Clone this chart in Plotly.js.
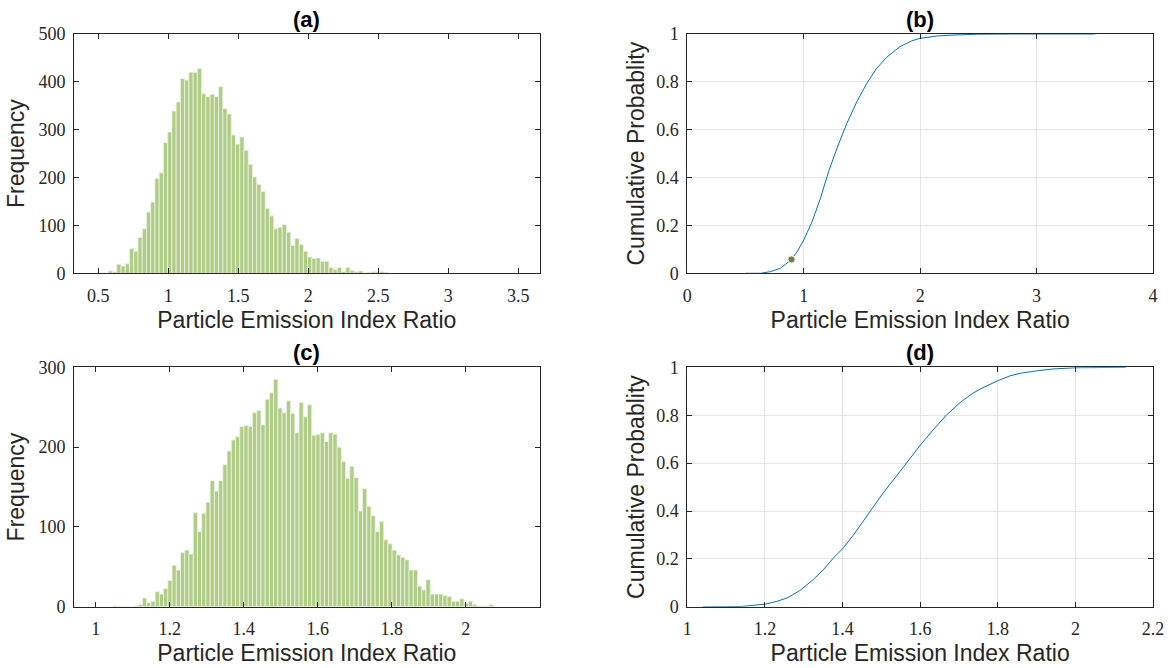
<!DOCTYPE html>
<html>
<head>
<meta charset="utf-8">
<script src="https://cdn.plot.ly/plotly-3.0.1.min.js"></script>
<style>html,body{margin:0;padding:0;background:#fff;}#chart{width:1172px;height:668px;}</style>
</head>
<body>
<div id="chart"></div>
<script>
// ---- Data ----
const histA_binStart = 0.571;
const histA_binWidth = 0.0303;
const histA_counts = [5, 3, 19, 15, 20, 52, 46, 75, 93, 128, 149, 198, 210, 273, 295, 339, 358, 407, 404, 420, 420, 428, 375, 369, 374, 369, 390, 344, 333, 289, 270, 285, 257, 228, 201, 186, 171, 136, 120, 93, 96, 102, 86, 58, 73, 60, 46, 34, 31, 32, 25, 25, 12, 8, 12, 4, 12, 6, 3, 5, 0, 2, 3, 3, 4, 2];

const histC_binStart = 1.046;
const histC_binWidth = 0.01144;
const histC_counts = [1, 0, 0, 0, 0, 1, 3, 11, 5, 7, 19, 16, 23, 33, 52, 46, 68, 71, 66, 118, 94, 117, 131, 158, 145, 158, 178, 195, 209, 213, 226, 227, 226, 243, 246, 228, 260, 268, 285, 249, 243, 258, 242, 218, 256, 238, 253, 215, 216, 218, 207, 218, 216, 200, 182, 161, 176, 162, 120, 148, 126, 114, 94, 107, 84, 79, 71, 65, 62, 59, 46, 46, 26, 21, 34, 16, 16, 16, 14, 13, 7, 7, 10, 4, 7, 3, 1, 1, 1, 3];

const cdfB_x = [0.50, 0.63, 0.715, 0.80, 0.895, 0.943, 1.0, 1.072, 1.143, 1.214, 1.285, 1.371, 1.456, 1.542, 1.627, 1.713, 1.826, 1.926, 2.0, 2.15, 2.3, 2.5, 2.8, 3.1, 3.5];
const cdfB_y = [0, 0, 0.007, 0.021, 0.058, 0.090, 0.139, 0.216, 0.313, 0.425, 0.522, 0.627, 0.717, 0.794, 0.857, 0.903, 0.947, 0.971, 0.982, 0.992, 0.996, 0.999, 1.0, 1.0, 1.0];
const markB_x = [0.895];
const markB_y = [0.058];

const cdfD_x = [1.04, 1.136, 1.2, 1.23, 1.26, 1.29, 1.324, 1.35, 1.376, 1.4, 1.427, 1.453, 1.479, 1.504, 1.539, 1.573, 1.599, 1.633, 1.668, 1.706, 1.736, 1.762, 1.8, 1.831, 1.861, 1.9, 1.942, 2.0, 2.062, 2.13];
const cdfD_y = [0, 0.001, 0.011, 0.022, 0.039, 0.068, 0.113, 0.154, 0.203, 0.242, 0.297, 0.356, 0.418, 0.474, 0.546, 0.620, 0.672, 0.738, 0.801, 0.857, 0.892, 0.915, 0.944, 0.964, 0.976, 0.985, 0.993, 0.998, 1.0, 1.0];

const panelTitles = ['(a)', '(b)', '(c)', '(d)'];
const xTitle = 'Particle Emission Index Ratio';
const yTitleHist = 'Frequency';
const yTitleCdf = 'Cumulative Probablity';

const ticksA_x = [0.5, 1, 1.5, 2, 2.5, 3, 3.5];
const ticksA_y = [0, 100, 200, 300, 400, 500];
const ticksB_x = [0, 1, 2, 3, 4];
const ticksProb = [0, 0.2, 0.4, 0.6, 0.8, 1];
const ticksC_x = [1, 1.2, 1.4, 1.6, 1.8, 2];
const ticksC_y = [0, 100, 200, 300];
const ticksD_x = [1, 1.2, 1.4, 1.6, 1.8, 2, 2.2];

// ---- Build ----
const centers = (start, w, n) => Array.from({length: n}, (_, i) => start + w * (i + 0.5));

const barStyle = {color: '#afcd86', line: {color: '#eef4e4', width: 0.8}};
const lineStyle = {color: '#0072BD', width: 1};

const traces = [
  {type: 'bar', x: centers(histA_binStart, histA_binWidth, histA_counts.length), y: histA_counts,
   width: histA_binWidth, marker: barStyle, xaxis: 'x', yaxis: 'y', hoverinfo: 'x+y'},
  {type: 'scatter', mode: 'lines', x: cdfB_x, y: cdfB_y, line: lineStyle, xaxis: 'x2', yaxis: 'y2'},
  {type: 'scatter', mode: 'markers', x: markB_x, y: markB_y, xaxis: 'x2', yaxis: 'y2',
   marker: {size: 7, color: '#6f7a5e', line: {color: '#e9efb8', width: 1}}},
  {type: 'bar', x: centers(histC_binStart, histC_binWidth, histC_counts.length), y: histC_counts,
   width: histC_binWidth, marker: barStyle, xaxis: 'x3', yaxis: 'y3', hoverinfo: 'x+y'},
  {type: 'scatter', mode: 'lines', x: cdfD_x, y: cdfD_y, line: lineStyle, xaxis: 'x4', yaxis: 'y4'}
];

const W = 1172, H = 668;
const colL = [74 / W, 539.7 / W];
const colR = [687.3 / W, 1153 / W];
const rowT = [1 - 273.3 / H, 1 - 34 / H];
const rowB = [1 - 606.8 / H, 1 - 367.3 / H];

const tickFont = {family: 'Liberation Serif, Times New Roman, serif', size: 18, color: '#262626'};
const titleFont = {family: 'Liberation Sans, Arial, sans-serif', size: 23, color: '#262626'};

function axis(domain, range, tickvals, grid, title, standoff, isX) {
  return {
    domain: domain, range: range, tickvals: tickvals, ticktext: tickvals.map(v => String(v)),
    showline: true, linecolor: '#262626', linewidth: 1, mirror: 'ticks',
    ticks: 'inside', ticklen: 5, tickwidth: 1, tickcolor: '#262626',
    showgrid: grid, gridcolor: '#e4e4e4', gridwidth: 1, zeroline: false,
    tickfont: tickFont, ticklabelstandoff: isX ? 6 : 4,
    title: {text: title, font: titleFont, standoff: standoff},
    automargin: false, fixedrange: true
  };
}

const layout = {
  width: W, height: H,
  margin: {l: 0, r: 0, t: 0, b: 0},
  paper_bgcolor: '#ffffff', plot_bgcolor: '#ffffff',
  showlegend: false,
  xaxis:  axis(colL, [0.326, 3.653], ticksA_x, false, xTitle, 6, true),
  yaxis:  Object.assign(axis(rowT, [0, 500], ticksA_y, false, yTitleHist, 7, false), {anchor: 'x'}),
  xaxis2: Object.assign(axis(colR, [0, 4], ticksB_x, true, xTitle, 6, true), {anchor: 'y2'}),
  yaxis2: Object.assign(axis(rowT, [0, 1], ticksProb, true, yTitleCdf, 5, false), {anchor: 'x2'}),
  xaxis3: Object.assign(axis(colL, [0.941, 2.2], ticksC_x, false, xTitle, 6, true), {anchor: 'y3'}),
  yaxis3: Object.assign(axis(rowB, [0, 300], ticksC_y, false, yTitleHist, 7, false), {anchor: 'x3'}),
  xaxis4: Object.assign(axis(colR, [1, 2.2], ticksD_x, true, xTitle, 6, true), {anchor: 'y4'}),
  yaxis4: Object.assign(axis(rowB, [0, 1], ticksProb, true, yTitleCdf, 5, false), {anchor: 'x4'}),
  annotations: [
    [colL, rowT, panelTitles[0]], [colR, rowT, panelTitles[1]],
    [colL, rowB, panelTitles[2]], [colR, rowB, panelTitles[3]]
  ].map(([c, r, t]) => ({
    text: '<b>' + t + '</b>', xref: 'paper', yref: 'paper',
    x: (c[0] + c[1]) / 2, y: r[1], xanchor: 'center', yanchor: 'bottom', yshift: 0,
    showarrow: false, font: {family: 'Liberation Sans, Arial, sans-serif', size: 22, color: '#000000'}
  }))
};
layout.xaxis.anchor = 'y';

Plotly.newPlot('chart', traces, layout, {displayModeBar: false, staticPlot: true});
</script>
</body>
</html>
